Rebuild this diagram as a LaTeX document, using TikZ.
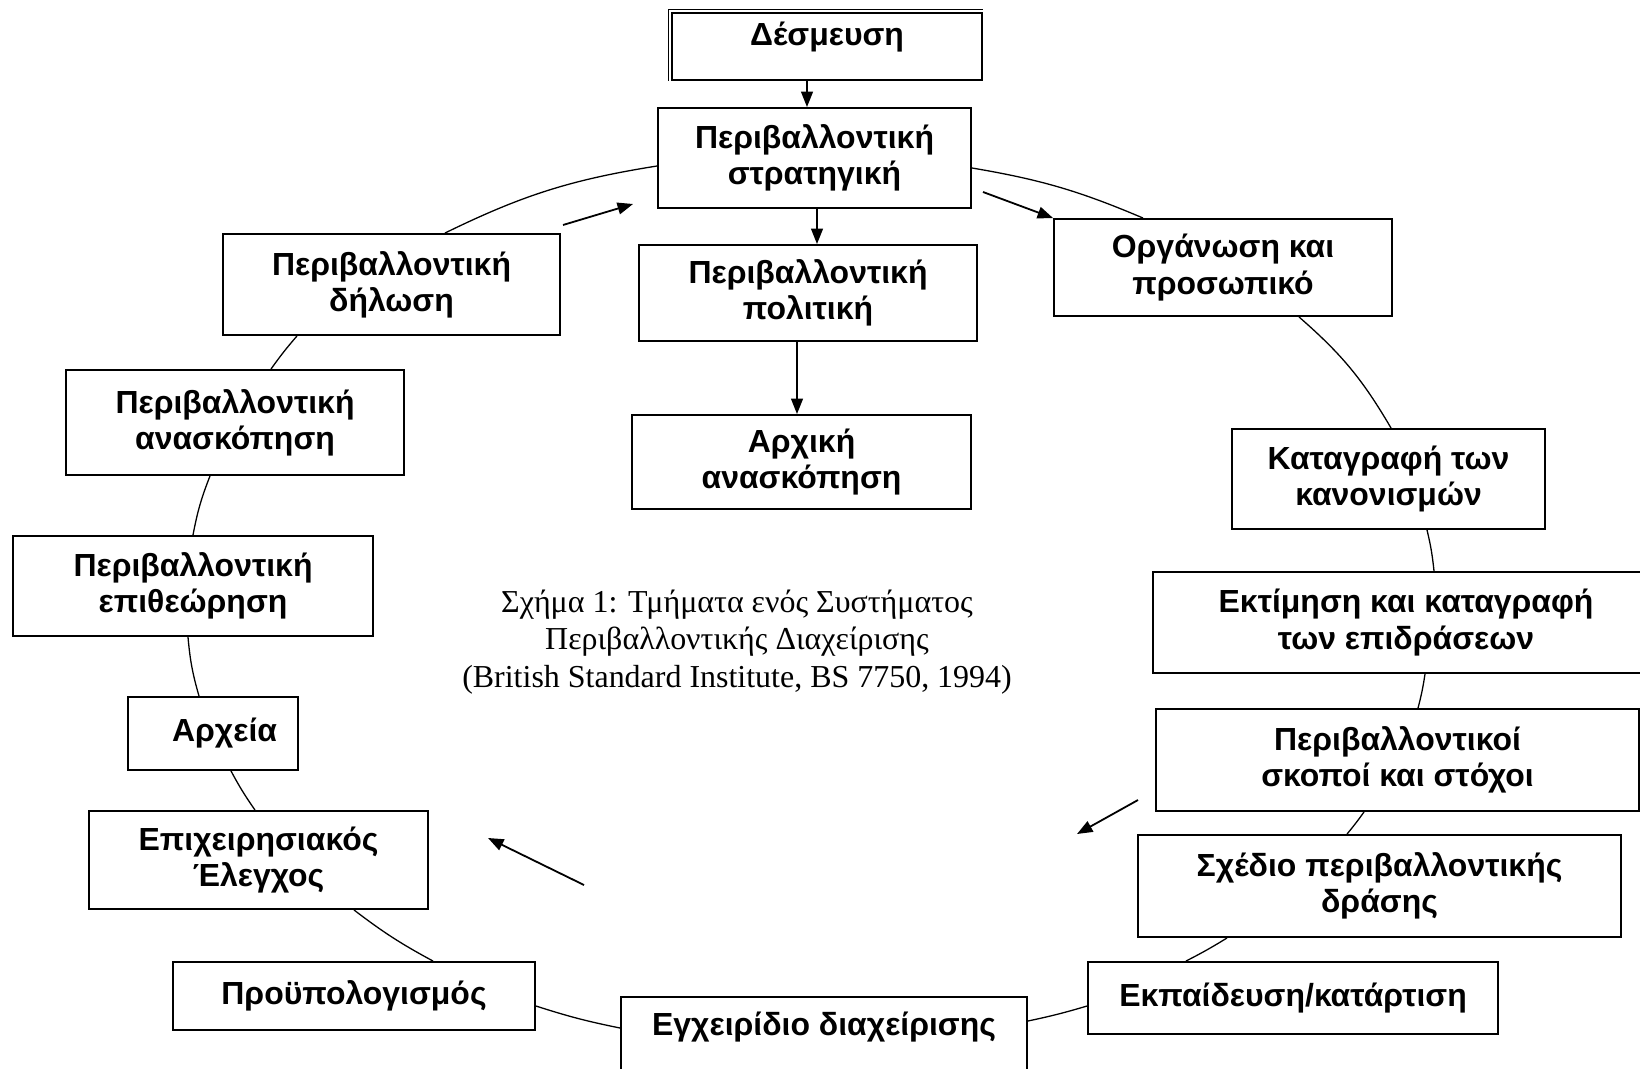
\documentclass[tikz,border=0pt]{standalone}
\usepackage{fontspec}
\setmainfont{Liberation Serif}
\newfontfamily\boxfont{Liberation Sans}
\usetikzlibrary{arrows.meta}

\tikzset{
  blok/.style={draw, line width=0.75pt, inner sep=0pt, align=center,
    font=\boxfont\bfseries\fontsize{12.4}{14.1}\selectfont},
  dims/.style 2 args={minimum width=#1*0.388pt, minimum height=#2*0.388pt},
  lnk/.style={line width=0.5pt},
  arr/.style={->, line width=0.7pt},
}

\begin{document}
\begin{tikzpicture}[x=0.388pt, y=0.388pt, >={Triangle[length=6pt,width=4.6pt]}]
    \useasboundingbox (0,0) rectangle (1640,1068);
    % middle column
    \node[blok, dims={310}{67}, text depth=10pt](desm) at (827,1021.7){Δέσμευση};
    \node[blok, dims={313}{100}](strat) at (814.5,910){Περιβαλλοντική\\στρατηγική};
    \node[blok, dims={338}{96}](polit) at (808,775){Περιβαλλοντική\\πολιτική};
    \node[blok, dims={339}{94}](archan) at (801.5,606){Αρχική\\ανασκόπηση};
    % left side of the cycle
    \node[blok, dims={337}{101}](dil) at (391.5,783.5){Περιβαλλοντική\\δήλωση};
    \node[blok, dims={338}{105}](anask) at (235,645.5){Περιβαλλοντική\\ανασκόπηση};
    \node[blok, dims={360}{100}](epith) at (193,482){Περιβαλλοντική\\επιθεώρηση};
    \node[blok, dims={170}{73}](arch) at (213,334.5){\hspace*{9pt}Αρχεία};
    \node[blok, dims={339}{98}](epix) at (258.5,208){Επιχειρησιακός\\Έλεγχος};
    \node[blok, dims={362}{68}](proup) at (354,72){Προϋπολογισμός};
    \node[blok, dims={406}{82}, text depth=11pt](egx) at (824,30){Εγχειρίδιο διαχείρισης};
    % right side of the cycle
    \node[blok, dims={410}{72}](ekp) at (1293,70){Εκπαίδευση/κατάρτιση};
    \node[blok, dims={483}{102}](sxed) at (1379.5,182){Σχέδιο περιβαλλοντικής\\δράσης};
    \node[blok, dims={483}{102}](skop) at (1397.5,308){Περιβαλλοντικοί\\σκοποί και στόχοι};
    \node[blok, dims={506}{101}](ektim) at (1406,445.5){Εκτίμηση και καταγραφή\\των επιδράσεων};
    \node[blok, dims={313}{100}](katag) at (1388.5,589){Καταγραφή των\\κανονισμών};
    \node[blok, dims={338}{97}](org) at (1223,800.5){Οργάνωση και\\προσωπικό};
    % caption
    \node[align=center, font=\fontsize{12.4}{14.5}\selectfont](cap) at (737,426)
        {Σχήμα 1: Τμήματα ενός Συστήματος\\Περιβαλλοντικής Διαχείρισης\\(British Standard Institute, BS 7750, 1994)};
    % second edge on the top box
    \draw[line width=0.6pt] ([shift={(-2.5,0)}]desm.south west) |- ([shift={(0,2.5)}]desm.north east);

    % downward arrows
    \draw[arr] ([shift={(-20,0)}]desm.south) -- ([shift={(-7.5,0)}]strat.north);
    \draw[arr] ([shift={(2.5,0)}]strat.south) -- ([shift={(9,0)}]polit.north);
    \draw[arr] ([shift={(-11,0)}]polit.south) -- ([shift={(-4.5,0)}]archan.north);

    % the cycle
    \draw[lnk] ([shift={(0,-8)}]strat.west) to[bend right=8.5] ([shift={(53.5,0)}]dil.north);
    \draw[lnk] ([shift={(-94.5,0)}]dil.south) to[bend right=2.7] ([shift={(36,0)}]anask.north);
    \draw[lnk] ([shift={(-25,0)}]anask.south) to[bend right=5.3] (epith.north);
    \draw[lnk] ([shift={(-5,0)}]epith.south) to[bend right=5.5] ([shift={(-14,0)}]arch.north);
    \draw[lnk] ([shift={(18,0)}]arch.south) to[bend right=3.3] ([shift={(-3.5,0)}]epix.north);
    \draw[lnk] ([shift={(95.5,0)}]epix.south) to[bend right=4.5] ([shift={(79,0)}]proup.north);
    \draw[lnk] ([shift={(0,-10)}]proup.east) to[bend right=3.2] ([shift={(0,10)}]egx.west);
    \draw[lnk] ([shift={(0,17)}]egx.east) to[bend right=2.3] ([shift={(0,-8)}]ekp.west);
    \draw[lnk] ([shift={(-107,0)}]ekp.north) to[bend right=2.2] ([shift={(-152.5,0)}]sxed.south);
    \draw[lnk] ([shift={(-32.5,0)}]sxed.north) to[bend right=1.9] ([shift={(-33.5,0)}]skop.south);
    \draw[lnk] ([shift={(20.5,0)}]skop.north) to[bend right=3] ([shift={(19,0)}]ektim.south);
    \draw[lnk] ([shift={(28,0)}]ektim.north) to[bend right=3.7] ([shift={(38.5,0)}]katag.south);
    \draw[lnk] ([shift={(2.5,0)}]katag.north) to[bend right=9.3] ([shift={(76,0)}]org.south);
    \draw[lnk] ([shift={(-80,0)}]org.north) to[bend right=6.7] ([shift={(0,-10)}]strat.east);

    % loose arrows round the cycle
    \coordinate (d1) at (563,843);
    \coordinate (d2) at (633,864);
    \coordinate (e1) at (983,876);
    \coordinate (f1) at (1138,268);
    \coordinate (f2) at (1077,234);
    \coordinate (g1) at (584,183);
    \coordinate (g2) at (488,230);
    \draw[arr] (d1) -- (d2);
    \draw[arr] (e1) -- (org.north west);
    \draw[arr] (f1) -- (f2);
    \draw[arr] (g1) -- (g2);
\end{tikzpicture}
\end{document}
